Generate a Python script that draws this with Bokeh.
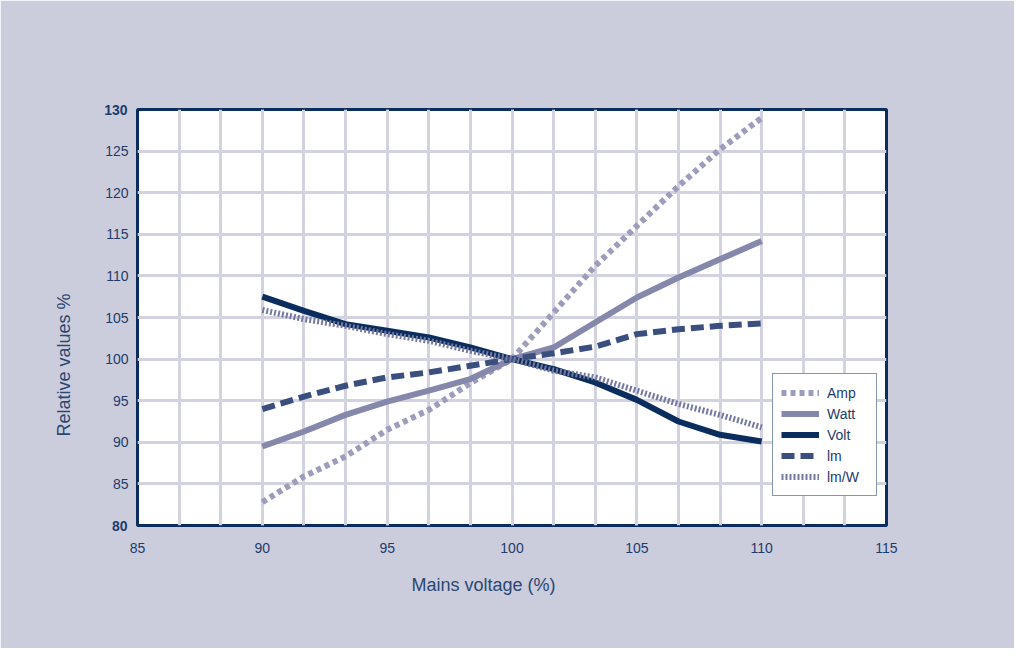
from bokeh.plotting import figure
from bokeh.models import Legend, LegendItem, Title, SingleIntervalTicker, FixedTicker, LinearAxis
from bokeh.embed import file_html
from bokeh.resources import INLINE

# ---- data ----
voltage = [90, 91.67, 93.33, 95, 96.67, 98.33, 100, 101.67, 103.33, 105, 106.67, 108.33, 110]
amp = [82.8, 85.9, 88.3, 91.5, 93.9, 97.1, 100, 105.6, 111.2, 116.0, 120.8, 125.2, 129.0]
watt = [89.5, 91.3, 93.3, 94.9, 96.2, 97.6, 100, 101.4, 104.4, 107.4, 109.8, 112.0, 114.2]
volt = [107.5, 105.8, 104.2, 103.4, 102.6, 101.4, 100, 98.8, 97.2, 95.1, 92.5, 90.9, 90.1]
lm = [94.0, 95.5, 96.8, 97.8, 98.4, 99.2, 100, 100.7, 101.5, 103.0, 103.6, 104.0, 104.3]
lmw = [105.9, 104.8, 104.0, 103.0, 102.2, 101.0, 100, 98.6, 97.8, 96.2, 94.6, 93.3, 91.8]
series_names = ["Amp", "Watt", "Volt", "lm", "lm/W"]
x_range = (85, 115)
y_range = (80, 130)
bold_y_ticks = [80, 130]

NAVY = "#0B2D5E"
TXT = "#1D3C6B"
BG = "#CCCDDC"
GRID = "#D2D2E0"
FONT = "Liberation Sans"

p = figure(width=1014, height=648, x_range=x_range, y_range=y_range,
           output_backend="svg", toolbar_location=None,
           min_border_left=137, min_border_right=128, min_border_top=109, min_border_bottom=123)
p.background_fill_color = "white"
p.border_fill_color = BG
p.outline_line_color = NAVY
p.outline_line_width = 3

p.xaxis.ticker = SingleIntervalTicker(interval=5, num_minor_ticks=3)
p.yaxis.ticker = SingleIntervalTicker(interval=5, num_minor_ticks=0)
p.yaxis.major_label_overrides = {t: "" for t in bold_y_ticks}

# second left axis carrying the bold end labels, pulled back over the first one
bold_axis = LinearAxis(ticker=FixedTicker(ticks=bold_y_ticks))
bold_axis.major_label_text_font_style = "bold"
p.add_layout(bold_axis, "left")

for ax in (p.xaxis[0], p.yaxis[0], bold_axis):
    ax.axis_line_color = None
    ax.major_tick_line_color = None
    ax.minor_tick_line_color = None
    ax.major_label_text_color = TXT
    ax.major_label_text_font = FONT
    ax.major_label_text_font_size = "14px"
p.xaxis.major_label_standoff = 11
p.yaxis[0].major_label_standoff = 3
bold_axis.major_label_standoff = -31

p.xgrid.grid_line_color = GRID
p.xgrid.grid_line_width = 3
p.xgrid.minor_grid_line_color = GRID
p.xgrid.minor_grid_line_width = 3
p.ygrid.grid_line_color = GRID
p.ygrid.grid_line_width = 3

p.add_layout(Title(text="Mains voltage (%)", align="left", offset=274, standoff=34,
                   text_color="#2A4773", text_font=FONT, text_font_size="18px",
                   text_font_style="normal"), "below")
p.add_layout(Title(text="Relative values %", align="left", offset=89, standoff=55,
                   text_color="#2A4773", text_font=FONT, text_font_size="18px",
                   text_font_style="normal"), "left")

styles = [
    (amp, "#9C9DBC", "5 4"),
    (watt, "#8587AB", "solid"),
    (volt, NAVY, "solid"),
    (lm, "#3B4F7F", "13 6"),
    (lmw, "#7479A2", "2 2"),
]
items = []
for name, (ys, col, dash) in zip(series_names, styles):
    r = p.line(voltage, ys, line_color=col, line_width=6, line_dash=dash, line_cap="butt")
    items.append(LegendItem(label=name, renderers=[r]))

leg = Legend(items=items, location=(635, 29), orientation="vertical")
leg.background_fill_color = "white"
leg.background_fill_alpha = 1
leg.border_line_color = NAVY
leg.border_line_width = 1
leg.label_text_color = TXT
leg.label_text_font = FONT
leg.label_text_font_size = "14px"
leg.glyph_width = 38
leg.glyph_height = 21
leg.label_height = 21
leg.label_width = 41
leg.spacing = 0
leg.padding = 8
leg.margin = 0
leg.label_standoff = 8
p.add_layout(leg)

open("out.html", "w").write(file_html(p, INLINE))
